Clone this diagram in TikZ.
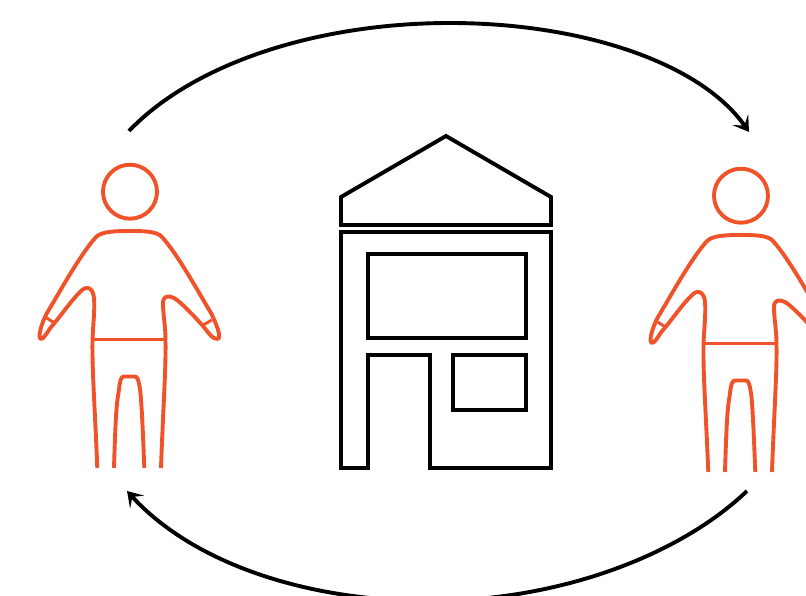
\documentclass[tikz,border=0pt]{standalone}
\usepackage{tikz}
\usetikzlibrary{arrows.meta,calc}
\definecolor{figorange}{HTML}{F0532A}

\begin{document}
\begin{tikzpicture}[x=1pt,y=-1pt,>={Stealth[length=15pt,width=19pt,inset=7pt]},
    houseline/.style={draw=black,line width=3.9pt,miter limit=10},
    figline/.style={draw=figorange,line width=3.9pt,line join=round},
    cycleline/.style={draw=black,line width=3.9pt,->},
    pics/person/.style={code={
      \draw[figline] (130,191.7) circle (27);
      % outline, from left foot round to right foot
      \draw[figline] (97.3,468) .. controls (95,410) and (92,370) .. (92.5,340)
        .. controls (93,325) and (95,310) .. (94,298)
        .. controls (93,287) and (86,285) .. (80,292)
        .. controls (70,302) and (60,317) .. (52,326)
        .. controls (47,332) and (44,339) .. (41,339)
        .. controls (37,338) and (42,322) .. (47,313)
        .. controls (62,288) and (80,255) .. (96,237)
        .. controls (102,231) and (118,231) .. (130,231)
        .. controls (142,231) and (157,231) .. (162,237)
        .. controls (178,255) and (196,288) .. (211,313)
        .. controls (215,321) and (222,337) .. (218,339)
        .. controls (213,340) and (207,331) .. (203,326)
        .. controls (194,316) and (182,303) .. (174,298)
        .. controls (168,295) and (163,296) .. (163,303)
        .. controls (163,315) and (165.5,325) .. (165.5,340)
        .. controls (166,370) and (163,410) .. (161,468);
      \draw[figline] (114,468) .. controls (115,435) and (116,405) .. (118.5,393)
        .. controls (120,380) and (121,376.5) .. (124,376.5)
        -- (135,376.5) .. controls (138,376.5) and (139,382) .. (140.5,393)
        .. controls (142,410) and (143,435) .. (144.3,468);
      \draw[figline] (92.5,339.5) -- (165.5,339.5);
      \draw[figline,line width=3pt] (46.7,318) -- (55,323.3);
      \draw[figline,line width=3pt] (211.7,320) -- (203.3,325);
    }}]
  \clip (0,0) rectangle (806,596);

  \coordinate (lefttop) at (129,131);
  \coordinate (righttop) at (749,132);
  \coordinate (rightbottom) at (747,491);
  \coordinate (leftbottom) at (127,491);

  \pic at (0,0) {person};
  \pic at (611,4) {person};

  % house
  \draw[houseline] (341,225) -- (341,197) -- (446,136) -- (551,197) -- (551,225) -- cycle;
  \draw[houseline] (341,232) -- (551,232) -- (551,468) -- (430,468) -- (430,355)
     -- (368,355) -- (368,468) -- (341,468) -- cycle;
  \draw[houseline] (368,254) rectangle (526,338);
  \draw[houseline] (453,355) rectangle (526,410);

  % cycle
  \draw[cycleline] (lefttop) .. controls (195,62) and (320,23) .. (450,23)
     .. controls (580,23) and (700,62) .. (righttop);
  \draw[cycleline] (rightbottom) .. controls (680,555) and (560,601) .. (430,601)
     .. controls (300,601) and (190,560) .. (leftbottom);
\end{tikzpicture}
\end{document}
